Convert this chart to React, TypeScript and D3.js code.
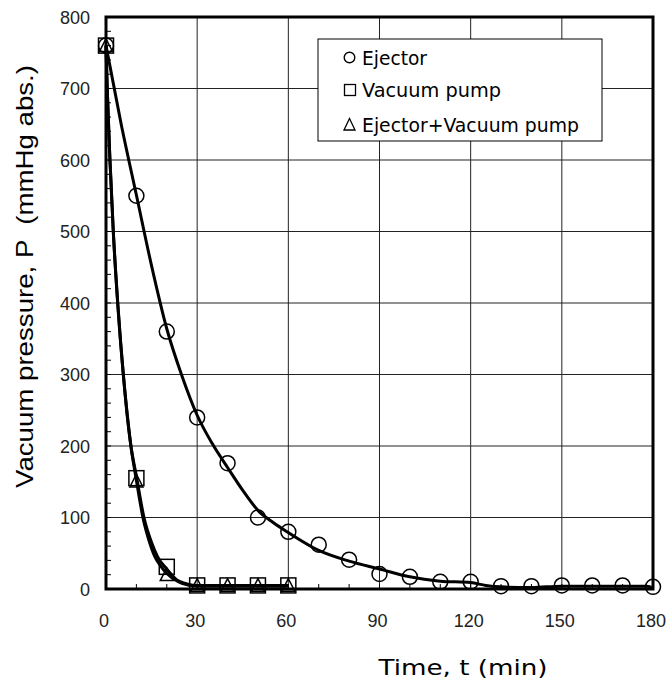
import React from "react";
import * as d3 from "d3";

// ---- data ----
const ejectorTimes = [0, 10, 20, 30, 40, 50, 60, 70, 80, 90, 100, 110, 120, 130, 140, 150, 160, 170, 180];
const ejectorValues = [760, 550, 360, 240, 176, 100, 80, 62, 41, 21, 17, 10, 10, 4, 4, 5, 5, 5, 3];

const pumpTimes = [0, 10, 20, 30, 40, 50, 60];
const pumpValues = [760, 155, 31, 5, 5, 5, 5];

const comboTimes = [0, 10, 20, 30, 40, 50, 60];
const comboValues = [760, 151, 20, 5, 5, 5, 5];

// fitted curves
const ejectorCurveT = [0, 5, 10, 15, 20, 25, 30, 35, 40, 45, 50, 55, 60, 70, 80, 90, 100, 110, 120, 125, 130, 140, 150, 170, 178, 180];
const ejectorCurveP = [760, 650, 551, 452, 364, 298, 243, 203, 170, 138, 110, 93, 79, 54, 39, 28, 17, 11, 9, 5, 3, 2, 4, 4, 4, 2];

const pumpCurveT = [0, 0.4, 1.3, 2.4, 4, 5.7, 8.2, 10, 12.5, 15, 17, 20, 24, 30, 40, 60];
const pumpCurveP = [760, 700, 600, 500, 392, 300, 200, 158, 100, 65, 45, 28, 11, 5, 5, 5];

const comboCurveT = [0, 0.4, 1.3, 2.4, 4, 5.7, 8.2, 10, 12.3, 14, 16, 18, 20, 25, 30, 40, 60];
const comboCurveP = [760, 700, 600, 500, 390, 300, 200, 152, 97, 70, 46, 32, 22, 8, 4, 4, 4];

const xTicks = [0, 30, 60, 90, 120, 150, 180];
const yTicks = [0, 100, 200, 300, 400, 500, 600, 700, 800];
const xMinor = d3.range(0, 181, 10);
const yMinor = d3.range(0, 801, 20);

const legendLabels = ["Ejector", "Vacuum pump", "Ejector+Vacuum pump"];

// ---- layout ----
const W = 671;
const H = 684;
const L = 106, R = 653, T = 17, B = 589;

export default function App() {
  const x = d3.scaleLinear().domain([0, 180]).range([L, R]);
  const y = d3.scaleLinear().domain([0, 800]).range([B, T]);

  const line = d3
    .line<[number, number]>()
    .x((d) => x(d[0]))
    .y((d) => y(d[1]))
    .curve(d3.curveMonotoneX);

  const zip = (a: number[], b: number[]) => a.map((t, i) => [t, b[i]] as [number, number]);

  const tri = (cx: number, cy: number, s: number) => {
    const h = s * 0.9;
    return `M${cx},${cy - h / 2 - 1}L${cx + s / 2},${cy + h / 2}L${cx - s / 2},${cy + h / 2}Z`;
  };

  const tickFont = "'Liberation Sans', Arial, sans-serif";
  const korFont = "'DejaVu Sans', 'Noto Sans CJK KR', sans-serif";

  const legendX = 318, legendY = 39, legendW = 284, legendH = 102;
  const rowY = [57.5, 90, 124.5];
  const legendLens = [65, 139, 217];

  return (
    <svg width={W} height={H} style={{ position: "absolute", left: 0, top: 0, background: "#fff" }}>
      <rect x={0} y={0} width={W} height={H} fill="#fff" />
      {/* grid */}
      {yTicks.slice(1, -1).map((v) => (
        <line key={"gy" + v} x1={L} x2={R} y1={y(v)} y2={y(v)} stroke="#222" strokeWidth={1} />
      ))}
      {xTicks.slice(1, -1).map((v) => (
        <line key={"gx" + v} x1={x(v)} x2={x(v)} y1={T} y2={B} stroke="#222" strokeWidth={1} />
      ))}
      {/* minor ticks */}
      {yMinor.map((v) => (
        <line key={"my" + v} x1={L} x2={L + 5} y1={y(v)} y2={y(v)} stroke="#000" strokeWidth={1} />
      ))}
      {xMinor.map((v) => (
        <line key={"mx" + v} x1={x(v)} x2={x(v)} y1={B} y2={B - 5} stroke="#000" strokeWidth={1} />
      ))}

      {/* legend */}
      <rect x={legendX} y={legendY} width={legendW} height={legendH} fill="#fff" stroke="#000" strokeWidth={1} />
      <circle cx={349.5} cy={rowY[0]} r={5.3} fill="none" stroke="#000" strokeWidth={1.4} />
      <rect x={344.5} y={rowY[1] - 5.5} width={11} height={11} fill="none" stroke="#000" strokeWidth={1.3} />
      <path d={`M349.5,${rowY[2] - 6}L355,${rowY[2] + 5.5}L344,${rowY[2] + 5.5}Z`} fill="none" stroke="#000" strokeWidth={1.3} />
      {legendLabels.map((s, i) => (
        <text
          key={s}
          x={362}
          y={rowY[i] + 7}
          fontFamily={korFont}
          fontSize={19}
          textLength={legendLens[i]}
          lengthAdjust="spacingAndGlyphs"
          fill="#000"
        >
          {s}
        </text>
      ))}

      {/* curves */}
      <path d={line(zip(ejectorCurveT, ejectorCurveP)) || ""} fill="none" stroke="#000" strokeWidth={3} />
      <path d={line(zip(pumpCurveT, pumpCurveP)) || ""} fill="none" stroke="#000" strokeWidth={3} />
      <path d={line(zip(comboCurveT, comboCurveP)) || ""} fill="none" stroke="#000" strokeWidth={3} />

      {/* markers */}
      {ejectorTimes.map((t, i) => (
        <circle key={"c" + i} cx={x(t)} cy={y(ejectorValues[i])} r={7.5} fill="none" stroke="#000" strokeWidth={1.5} />
      ))}
      {pumpTimes.map((t, i) => (
        <rect key={"s" + i} x={x(t) - 7.5} y={y(pumpValues[i]) - 7.5} width={15} height={15} fill="none" stroke="#000" strokeWidth={1.5} />
      ))}
      {comboTimes.map((t, i) => (
        <path key={"t" + i} d={tri(x(t), y(comboValues[i]), 13)} fill="none" stroke="#000" strokeWidth={1.5} />
      ))}

      {/* frame */}
      <rect x={L} y={T} width={R - L} height={B - T} fill="none" stroke="#000" strokeWidth={3} />

      {/* tick labels */}
      {yTicks.map((v) => (
        <text key={"ly" + v} x={90} y={y(v) + 6.5} textAnchor="end" fontFamily={tickFont} fontSize={18} fill="#222">
          {v}
        </text>
      ))}
      {xTicks.map((v) => (
        <text key={"lx" + v} x={x(v) - 2} y={627} textAnchor="middle" fontFamily={tickFont} fontSize={18} fill="#222">
          {v}
        </text>
      ))}

      {/* axis titles */}
      <text
        x={463}
        y={675}
        textAnchor="middle"
        fontFamily={korFont}
        fontSize={22}
        textLength={169}
        lengthAdjust="spacingAndGlyphs"
        fill="#000"
      >
        Time, t  (min)
      </text>
      <text
        transform={`translate(33,276.5) rotate(-90)`}
        textAnchor="middle"
        fontFamily={tickFont}
        fontSize={24}
        textLength={423}
        lengthAdjust="spacingAndGlyphs"
        fill="#000"
        style={{ whiteSpace: "pre" }}
      >
        {"Vacuum pressure, P  (mmHg abs.)"}
      </text>
    </svg>
  );
}
